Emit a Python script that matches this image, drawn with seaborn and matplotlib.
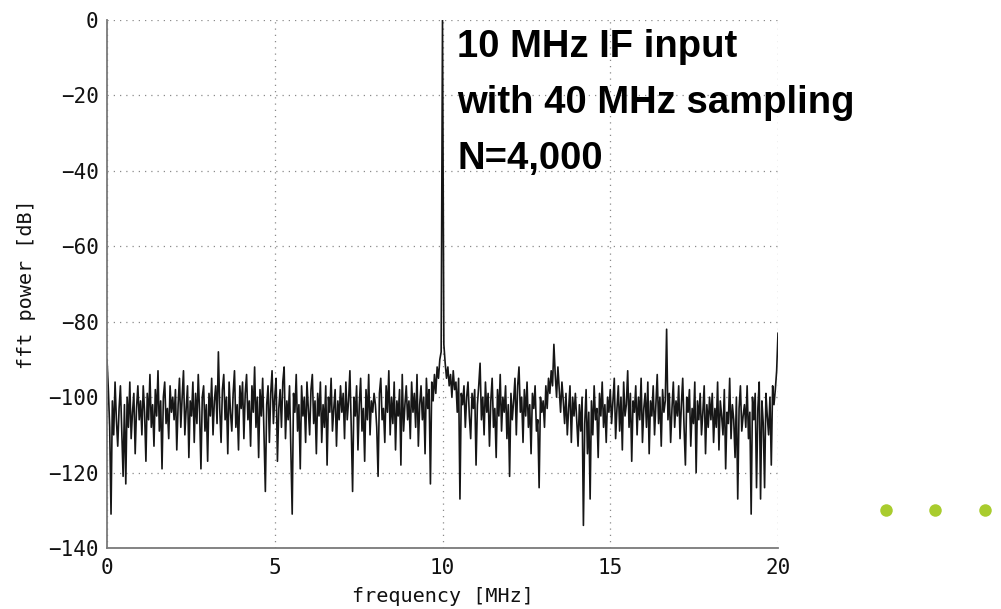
import numpy as np
import matplotlib
matplotlib.use("Agg")
import matplotlib.pyplot as plt
from matplotlib.lines import Line2D
import seaborn as sns

# FFT power [dB], one value every 0.04 MHz from 0 to 20 MHz
mhz_00 = [-90, -98, -108, -131, -101, -110, -96, -106, -113, -103, -97, -109, -121, -102, -123, -100, -108, -96, -111, -104, -99, -115, -103, -97, -106]
mhz_01 = [-101, -110, -97, -104, -117, -99, -106, -94, -108, -102, -113, -98, -105, -93, -109, -101, -119, -100, -96, -107, -103, -111, -97, -104, -100]
mhz_02 = [-106, -98, -114, -102, -95, -108, -100, -93, -110, -103, -97, -116, -101, -105, -96, -112, -99, -107, -94, -104, -119, -100, -97, -109, -102]
mhz_03 = [-117, -99, -105, -95, -110, -101, -97, -107, -88, -103, -112, -98, -94, -106, -100, -115, -96, -104, -109, -99, -93, -108, -102, -114, -97]
mhz_04 = [-103, -96, -111, -99, -94, -106, -101, -113, -97, -104, -92, -108, -100, -116, -98, -105, -95, -110, -125, -102, -97, -112, -99, -93, -107]
mhz_05 = [-100, -95, -117, -103, -98, -108, -96, -92, -111, -101, -106, -97, -114, -131, -99, -104, -94, -109, -102, -119, -97, -105, -100, -112, -96]
mhz_06 = [-103, -110, -98, -94, -107, -101, -115, -99, -105, -96, -112, -102, -108, -97, -118, -100, -104, -95, -109, -103, -98, -113, -101, -106, -97]
mhz_07 = [-104, -99, -111, -96, -106, -101, -93, -108, -125, -100, -105, -97, -114, -102, -95, -109, -103, -117, -98, -106, -94, -110, -101, -104, -99]
mhz_08 = [-102, -108, -121, -99, -95, -106, -103, -112, -97, -104, -93, -110, -100, -107, -96, -114, -101, -105, -98, -118, -94, -109, -102, -97, -106]
mhz_09 = [-101, -111, -96, -104, -99, -108, -94, -113, -102, -97, -106, -100, -115, -95, -103, -98, -123, -96, -101, -94, -99, -92, -95, -90, -88]
mhz_10 = [0, -86, -91, -95, -92, -97, -94, -100, -93, -98, -96, -104, -95, -127, -99, -102, -97, -108, -100, -96, -105, -111, -99, -103, -98]
mhz_11 = [-118, -102, -97, -91, -106, -100, -110, -96, -104, -99, -113, -101, -95, -108, -103, -116, -98, -105, -94, -109, -100, -104, -97, -111, -102]
mhz_12 = [-121, -99, -106, -101, -95, -110, -97, -92, -104, -100, -112, -98, -105, -96, -108, -102, -115, -99, -103, -97, -109, -106, -124, -100, -104]
mhz_13 = [-101, -108, -97, -103, -95, -99, -93, -97, -86, -94, -100, -92, -98, -104, -96, -101, -107, -99, -110, -103, -97, -112, -100, -105, -99]
mhz_14 = [-106, -113, -102, -109, -100, -134, -107, -98, -115, -104, -127, -101, -110, -97, -106, -103, -116, -99, -105, -96, -108, -102, -112, -100, -104]
mhz_15 = [-98, -107, -101, -95, -111, -103, -97, -109, -100, -114, -96, -105, -102, -93, -108, -99, -117, -101, -104, -97, -110, -100, -106, -95, -112]
mhz_16 = [-103, -99, -108, -96, -115, -101, -105, -97, -110, -102, -94, -107, -100, -113, -98, -104, -101, -82, -106, -99, -112, -103, -96, -108, -101]
mhz_17 = [-105, -97, -111, -102, -95, -108, -118, -100, -104, -98, -113, -103, -107, -96, -120, -101, -106, -99, -110, -104, -97, -115, -102, -108, -100]
mhz_18 = [-106, -99, -112, -103, -108, -96, -114, -101, -105, -110, -98, -119, -104, -107, -95, -111, -102, -106, -116, -100, -127, -103, -97, -109, -105]
mhz_19 = [-102, -108, -97, -111, -104, -131, -100, -106, -99, -124, -103, -96, -127, -101, -107, -124, -99, -105, -110, -100, -118, -97, -102, -98, -93]
mhz_20 = [-83]

power = np.array(mhz_00 + mhz_01 + mhz_02 + mhz_03 + mhz_04 + mhz_05 + mhz_06 + mhz_07
                 + mhz_08 + mhz_09 + mhz_10 + mhz_11 + mhz_12 + mhz_13 + mhz_14 + mhz_15
                 + mhz_16 + mhz_17 + mhz_18 + mhz_19 + mhz_20, dtype=float)
bin_width = 0.04  # MHz
freq = np.arange(len(power)) * bin_width

x_ticks = [0, 5, 10, 15, 20]
y_ticks = [0, -20, -40, -60, -80, -100, -120, -140]
annotation = "10 MHz IF input\nwith 40 MHz sampling\nN=4,000"

sns.set_theme(style="white")
plt.rcParams["font.family"] = ["DejaVu Sans Mono"]
plt.rcParams["axes.unicode_minus"] = True

fig = plt.figure(figsize=(10.01, 6.09), dpi=100)
ax = fig.add_axes([107 / 1001, 1 - 548 / 609, (778 - 107) / 1001, (548 - 20) / 609])

sns.lineplot(x=freq, y=power, ax=ax, color="#161616", linewidth=1.2,
             estimator=None, sort=False)

ax.set_xlim(0, 20)
ax.set_ylim(-140, 0)
ax.set_xticks(x_ticks)
ax.set_yticks(y_ticks)
ax.grid(True, linestyle=(0, (1, 4)), color="#8a8a8a", linewidth=0.9)

for s in ["top", "right"]:
    ax.spines[s].set_visible(False)
for s in ["left", "bottom"]:
    ax.spines[s].set_color("#7a7a7a")
    ax.spines[s].set_linewidth(1.3)

ax.tick_params(axis="both", direction="in", length=4, width=1, color="#7a7a7a",
               labelsize=15, labelcolor="#111111")
ax.tick_params(axis="y", pad=6)
ax.tick_params(axis="x", pad=7)
ax.set_xlabel("frequency [MHz]", fontsize=14.5, color="#111111", labelpad=7)
ax.set_ylabel("fft power [dB]", fontsize=14.5, color="#111111", labelpad=9)

fig.text(457 / 1001, 1 - 29 / 609, annotation, fontsize=27.5, fontweight="bold",
         family="Liberation Sans", color="black", va="top", ha="left",
         linespacing=1.72)

for xp in [886, 935, 985]:
    fig.add_artist(Line2D([xp / 1001], [1 - 510 / 609], transform=fig.transFigure,
                          marker="o", markersize=9, color="#a9cc2e",
                          markeredgewidth=0, linestyle="none"))

fig.savefig("out.png", dpi=100)
